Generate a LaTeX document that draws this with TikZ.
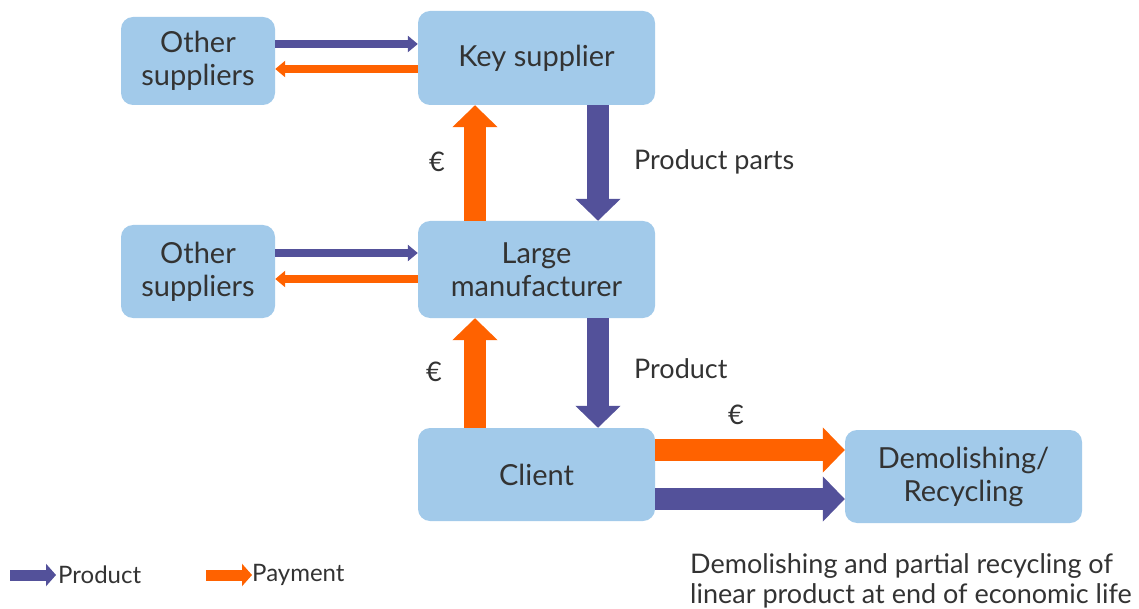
\documentclass[tikz,border=0pt]{standalone}
\usepackage{fontspec}
\setmainfont{Lato}
\usetikzlibrary{arrows.meta}

\definecolor{boxblue}{HTML}{A2CAEA}
\definecolor{prodpurple}{HTML}{53519A}
\definecolor{payorange}{HTML}{FF6200}
\definecolor{textgray}{HTML}{333333}

\tikzset{
  box/.style={fill=boxblue, rounded corners=12pt, align=center, text=textgray,
    font=\fontsize{29}{33}\selectfont, inner sep=0pt},
  bigbox/.style={box, minimum width=237pt, minimum height=95pt},
  smallbox/.style={box, minimum width=154pt, minimum height=90pt},
  thinprod/.style={prodpurple, line width=8pt, -{Triangle[length=10pt,width=16pt]}},
  thinpay/.style={payorange, line width=8pt, -{Triangle[length=10pt,width=16pt]}},
  fatprod/.style={prodpurple, line width=22pt, -{Triangle[length=22pt,width=44pt]}},
  fatpay/.style={payorange, line width=22pt, -{Triangle[length=22pt,width=44pt]}},
  legprod/.style={prodpurple, line width=11pt, -{Triangle[length=10pt,width=22pt]}},
  legpay/.style={payorange, line width=11pt, -{Triangle[length=10pt,width=22pt]}},
  lbl/.style={text=textgray, font=\fontsize{27}{31}\selectfont, inner sep=0pt}
}

\begin{document}
\begin{tikzpicture}[x=1pt, y=-1pt]
    \useasboundingbox (0,0) rectangle (1139,609);

    % Boxes
    \node[smallbox, minimum height=88pt] (os1) at (198,61) {Other\\suppliers};
    \node[bigbox, minimum height=94pt] (ks) at (536.5,58) {Key supplier};
    \node[smallbox, minimum height=93pt] (os2) at (198,271.5) {Other\\suppliers};
    \node[bigbox, minimum height=97pt] (lm) at (536.5,269.5) {Large\\manufacturer};
    \node[bigbox, minimum height=93pt] (cl) at (536.5,474.5) {Client};
    \node[bigbox, minimum height=93pt] (dr) at (963.5,476.5) {Demolishing/\\Recycling};

    % Other suppliers <-> key supplier / manufacturer
    \draw[thinprod] ([yshift=17pt]os1.east) -- ([yshift=17pt]os1.east -| ks.west);
    \draw[thinpay] ([yshift=-8pt]os1.east -| ks.west) -- ([yshift=-8pt]os1.east);
    \draw[thinprod] ([yshift=18.5pt]os2.east) -- ([yshift=18.5pt]os2.east -| lm.west);
    \draw[thinpay] ([yshift=-7.5pt]os2.east -| lm.west) -- ([yshift=-7.5pt]os2.east);

    % Main chain
    \draw[fatpay] ([xshift=-61.5pt]lm.north) -- ([xshift=-61.5pt]ks.south);
    \draw[fatprod] ([xshift=61.5pt]ks.south) -- ([xshift=61.5pt]lm.north);
    \draw[fatpay] ([xshift=-61.5pt]cl.north) -- ([xshift=-61.5pt]lm.south);
    \draw[fatprod] ([xshift=61.5pt]lm.south) -- ([xshift=61.5pt]cl.north);

    % Client -> demolishing
    \draw[fatpay] ([yshift=24.5pt]cl.east) -- ([yshift=24.5pt]cl.east -| dr.west);
    \draw[fatprod] ([yshift=-24.5pt]cl.east) -- ([yshift=-24.5pt]cl.east -| dr.west);

    % Labels
    \node[lbl] (eur1) at (437,162) {€};
    \node[lbl, anchor=west] (parts) at (634,162) {Product parts};
    \node[lbl] (eur2) at (434,372) {€};
    \node[lbl, anchor=west] (prod) at (634,369) {Product};
    \node[lbl] (eur3) at (736,415) {€};

    % Legend
    \coordinate (lp1) at (10,575);
    \coordinate (lp2) at (56,575);
    \coordinate (lo1) at (206,575);
    \coordinate (lo2) at (252,575);
    \draw[legprod] (lp1) -- (lp2);
    \draw[legpay] (lo1) -- (lo2);
    \node[lbl, font=\fontsize{24}{28}\selectfont, anchor=west] (legp) at (58,575) {Product};
    \node[lbl, font=\fontsize{24}{28}\selectfont, anchor=west] (lego) at (252,575) {Payment};

    \node[lbl, font=\fontsize{27}{30}\selectfont, align=left, anchor=west] (note) at (690,581)
        {Demolishing and partial recycling of\\linear product at end of economic life};
\end{tikzpicture}
\end{document}
